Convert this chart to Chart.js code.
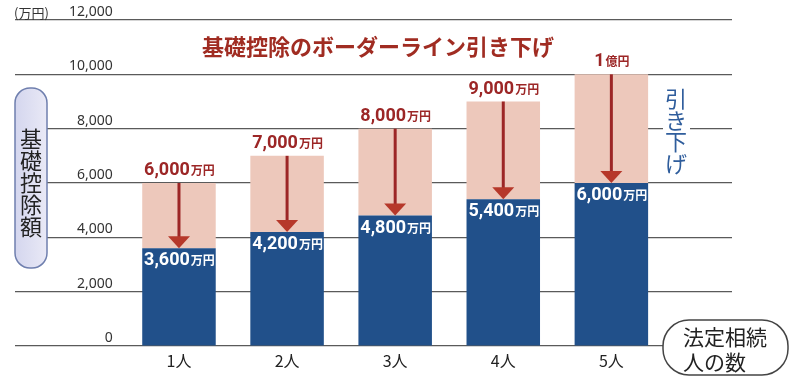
<!DOCTYPE html>
<html>
<head>
<meta charset="utf-8">
<script src="https://cdn.jsdelivr.net/npm/chart.js@4"></script>
<style>
  html, body { margin: 0; padding: 0; background: #fff; }
  #wrap { width: 795px; height: 381px; }
</style>
</head>
<body>
<div id="wrap"><canvas id="chart" width="795" height="381"></canvas></div>
<script>
// data
const categories = ["1人", "2人", "3人", "4人", "5人"];
const oldValues = [6000, 7000, 8000, 9000, 10000]; // before (万円)
const newValues = [3600, 4200, 4800, 5400, 6000];  // after (万円)
const yTicks = [0, 2000, 4000, 6000, 8000, 10000, 12000];

const BLUE = "#21508a";
const PINK = "#edc8bb";
const RED = "#9c2626";
const JP = "'Noto Sans CJK JP', 'Noto Sans', sans-serif";

// split value into big number + small unit
function splitLabel(v) {
  if (v >= 10000 && v % 10000 === 0) return [String(v / 10000), "億円"];
  return [v.toLocaleString("en-US"), "万円"];
}

function drawValueLabel(ctx, v, cx, baseline, color) {
  const [num, unit] = splitLabel(v);
  ctx.font = "bold 18px Roboto, 'Noto Sans', sans-serif";
  const w1 = ctx.measureText(num).width;
  ctx.font = "bold 12px " + JP;
  const w2 = ctx.measureText(unit).width;
  let x = cx - (w1 + w2) / 2;
  ctx.fillStyle = color;
  ctx.textAlign = "left";
  ctx.textBaseline = "alphabetic";
  ctx.font = "bold 18px Roboto, 'Noto Sans', sans-serif";
  ctx.fillText(num, x, baseline);
  ctx.font = "bold 12px " + JP;
  ctx.fillText(unit, x + w1 + 1, baseline);
}

function roundBox(ctx, x, y, w, h, r) {
  ctx.beginPath();
  ctx.moveTo(x + r, y);
  ctx.arcTo(x + w, y, x + w, y + h, r);
  ctx.arcTo(x + w, y + h, x, y + h, r);
  ctx.arcTo(x, y + h, x, y, r);
  ctx.arcTo(x, y, x + w, y, r);
  ctx.closePath();
}

const extras = {
  id: "extras",
  afterDatasetsDraw(chart) {
    const ctx = chart.ctx;
    const xs = chart.scales.x, ys = chart.scales.y;
    ctx.save();

    categories.forEach((c, i) => {
      const cx = xs.getPixelForValue(i + 1);
      const yOld = ys.getPixelForValue(oldValues[i]);
      const yNew = ys.getPixelForValue(newValues[i]);

      // arrow
      ctx.strokeStyle = RED;
      ctx.lineWidth = 3;
      ctx.beginPath();
      ctx.moveTo(cx, yOld);
      ctx.lineTo(cx, yNew - 11);
      ctx.stroke();
      ctx.fillStyle = "#b6382a";
      ctx.beginPath();
      ctx.moveTo(cx - 11, yNew - 12);
      ctx.lineTo(cx + 11, yNew - 12);
      ctx.lineTo(cx, yNew);
      ctx.closePath();
      ctx.fill();

      drawValueLabel(ctx, oldValues[i], cx, yOld - 8, RED);
      drawValueLabel(ctx, newValues[i], cx, yNew + 17, "#ffffff");
    });

    // (万円)
    ctx.fillStyle = "#333";
    ctx.font = "13px " + JP;
    ctx.textAlign = "left";
    ctx.textBaseline = "middle";
    ctx.fillText("(万円)", 14, 13);

    // title
    ctx.fillStyle = "#a02c22";
    ctx.font = "bold 22px " + JP;
    ctx.textAlign = "center";
    ctx.fillText("基礎控除のボーダーライン引き下げ", 378, 47);

    // 引き下げ (vertical)
    ctx.fillStyle = "#ffffff";
    ctx.fillRect(663, 88, 27, 88);
    ctx.fillStyle = "#2f5d9c";
    ctx.font = "22px " + JP;
    ["引", "き", "下", "げ"].forEach((ch, k) => ctx.fillText(ch, 676, 99 + k * 21.5));

    // left pill
    const g = ctx.createLinearGradient(15, 0, 47, 0);
    g.addColorStop(0, "#d4d6ee");
    g.addColorStop(1, "#e9e9f6");
    roundBox(ctx, 15, 88, 32, 180, 15);
    ctx.fillStyle = g;
    ctx.fill();
    ctx.strokeStyle = "#6f7fae";
    ctx.lineWidth = 1.5;
    ctx.stroke();
    ctx.fillStyle = "#222";
    ctx.font = "22px " + JP;
    ["基", "礎", "控", "除", "額"].forEach((ch, k) => ctx.fillText(ch, 31, 139 + k * 22));

    // bottom-right pill
    roundBox(ctx, 663, 320, 125, 55, 26);
    ctx.fillStyle = "#ffffff";
    ctx.fill();
    ctx.strokeStyle = "#444";
    ctx.lineWidth = 1.5;
    ctx.stroke();
    ctx.fillStyle = "#222";
    ctx.font = "21px " + JP;
    ctx.textAlign = "left";
    ctx.fillText("法定相続", 683, 337);
    ctx.fillText("人の数", 683, 362);

    ctx.restore();
  }
};

new Chart(document.getElementById("chart"), {
  type: "bar",
  data: {
    datasets: [
      {
        label: "引き下げ後",
        data: newValues.map((v, i) => ({ x: i + 1, y: v })),
        backgroundColor: BLUE,
        grouped: false,
        order: 1
      },
      {
        label: "引き下げ前",
        data: newValues.map((v, i) => ({ x: i + 1, y: [v, oldValues[i]] })),
        backgroundColor: PINK,
        grouped: false,
        order: 2
      }
    ]
  },
  options: {
    responsive: false,
    animation: false,
    layout: { padding: { left: 15, right: 63, top: 20, bottom: 0 } },
    plugins: { legend: { display: false }, tooltip: { enabled: false } },
    datasets: { bar: { barPercentage: 0.68, categoryPercentage: 1 } },
    scales: {
      x: {
        type: "linear",
        offset: false,
        min: -0.517,
        max: 6.116,
        grid: { display: false, drawTicks: false },
        border: { display: false },
        afterBuildTicks: s => { s.ticks = categories.map((c, i) => ({ value: i + 1 })); },
        afterFit: s => { s.height = 35; s.paddingLeft = 0; s.paddingRight = 0; },
        ticks: {
          padding: 5,
          maxRotation: 0,
          autoSkip: false,
          color: "#222",
          font: { family: "'Noto Sans CJK JP', 'Noto Sans'", size: 16 },
          callback: v => categories[v - 1]
        }
      },
      y: {
        min: 0,
        max: 12000,
        afterBuildTicks: s => { s.ticks = yTicks.map(v => ({ value: v })); },
        afterFit: s => { s.width = 0; s.paddingTop = 0; s.paddingBottom = 0; },
        border: { display: false },
        grid: { color: "#5a5a5a", lineWidth: 1.2, drawTicks: false },
        ticks: {
          mirror: true,
          crossAlign: "far",
          padding: 54,
          labelOffset: -8,
          color: "#333",
          font: { family: "'Noto Sans'", size: 14 },
          callback: v => v.toLocaleString("en-US")
        }
      }
    }
  },
  plugins: [extras]
});
</script>
</body>
</html>
